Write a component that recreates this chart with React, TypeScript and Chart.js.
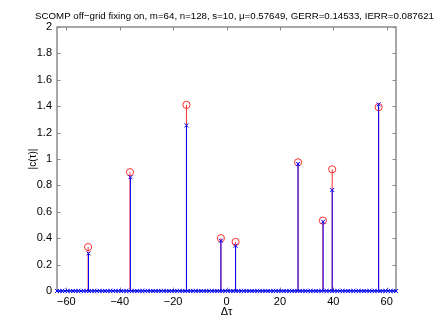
import React, { useEffect, useRef } from "react";
import { Chart, registerables } from "chart.js";

Chart.register(...registerables);

const TITLE = "SCOMP off\u2212grid fixing on, m=64, n=128, s=10, \u03bc=0.57649, GERR=0.14533, IERR=0.087621";
const X_LABEL = "\u0394\u03c4";
const Y_LABEL = "|c(\u03c4)|";

// true (red, circles) spikes
const trueTau = [-51.85, -36.15, -15.0, -2.1, 3.4, 26.8, 36.1, 39.6, 57.0];
const trueAmp = [0.333, 0.9, 1.41, 0.4, 0.372, 0.975, 0.533, 0.922, 1.393];
// estimated (blue, crosses) spikes
const estTau = [-51.7, -36.0, -15.0, -2.1, 3.4, 26.8, 36.2, 39.6, 57.0];
const estAmp = [0.285, 0.862, 1.255, 0.381, 0.343, 0.962, 0.525, 0.765, 1.414];
// grid of estimate positions where the estimate is zero
const zeroGrid = [
  -63.5, -62.5, -61.5, -60.5, -59.5, -58.5, -57.5, -56.5, -55.5, -54.5, -53.5, -52.5, -51.5, -50.5, -49.5, -48.5,
  -47.5, -46.5, -45.5, -44.5, -43.5, -42.5, -41.5, -40.5, -39.5, -38.5, -37.5, -36.5, -35.5, -34.5, -33.5, -32.5,
  -31.5, -30.5, -29.5, -28.5, -27.5, -26.5, -25.5, -24.5, -23.5, -22.5, -21.5, -20.5, -19.5, -18.5, -17.5, -16.5,
  -15.5, -14.5, -13.5, -12.5, -11.5, -10.5, -9.5, -8.5, -7.5, -6.5, -5.5, -4.5, -3.5, -2.5, -1.5, -0.5,
  0.5, 1.5, 2.5, 3.5, 4.5, 5.5, 6.5, 7.5, 8.5, 9.5, 10.5, 11.5, 12.5, 13.5, 14.5, 15.5,
  16.5, 17.5, 18.5, 19.5, 20.5, 21.5, 22.5, 23.5, 24.5, 25.5, 26.5, 27.5, 28.5, 29.5, 30.5, 31.5,
  32.5, 33.5, 34.5, 35.5, 36.5, 37.5, 38.5, 39.5, 40.5, 41.5, 42.5, 43.5, 44.5, 45.5, 46.5, 47.5,
  48.5, 49.5, 50.5, 51.5, 52.5, 53.5, 54.5, 55.5, 56.5, 57.5, 58.5, 59.5, 60.5, 61.5, 62.5, 63.5,
];

const X_MIN = -63.5;
const X_MAX = 63.5;
const Y_MIN = 0;
const Y_MAX = 2;
const xTicks = [-60, -40, -20, 0, 20, 40, 60];
const xTickLabels = ["\u221260", "\u221240", "\u221220", "0", "20", "40", "60"];
const yTicks = [0, 0.2, 0.4, 0.6, 0.8, 1, 1.2, 1.4, 1.6, 1.8, 2];
const yTickLabels = ["0", "0.2", "0.4", "0.6", "0.8", "1", "1.2", "1.4", "1.6", "1.8", "2"];

const FONT = "'Liberation Sans', Arial, Helvetica, sans-serif";

function stemData(tau: number[], amp: number[]) {
  const out: { x: number; y: number | null }[] = [];
  tau.forEach((t, i) => {
    out.push({ x: t, y: 0 });
    out.push({ x: t, y: amp[i] });
    out.push({ x: t, y: null });
  });
  return out;
}

const framePlugin = {
  id: "matlabFrame",
  beforeDatasetsDraw(chart: any) {
    const { ctx, chartArea } = chart;
    const { left, right, top, bottom } = chartArea;
    const xs = chart.scales.x;
    const ys = chart.scales.y;
    ctx.save();
    ctx.strokeStyle = "#8a8a8a";
    ctx.lineWidth = 1.5;
    ctx.strokeRect(left, top, right - left, bottom - top);
    ctx.lineWidth = 1;
    ctx.beginPath();
    const tl = 3.5;
    xTicks.forEach((v) => {
      const px = Math.round(xs.getPixelForValue(v)) + 0.5;
      ctx.moveTo(px, bottom);
      ctx.lineTo(px, bottom - tl);
      ctx.moveTo(px, top);
      ctx.lineTo(px, top + tl);
    });
    yTicks.forEach((v) => {
      const py = Math.round(ys.getPixelForValue(v)) + 0.5;
      ctx.moveTo(left, py);
      ctx.lineTo(left + tl, py);
      ctx.moveTo(right, py);
      ctx.lineTo(right - tl, py);
    });
    ctx.stroke();
    ctx.restore();
  },
  afterDraw(chart: any) {
    const { ctx, chartArea } = chart;
    const { left, right, top, bottom } = chartArea;
    ctx.save();
    ctx.fillStyle = "#000";
    ctx.textAlign = "center";
    ctx.textBaseline = "alphabetic";
    ctx.font = `10px ${FONT}`;
    const w = ctx.measureText(TITLE).width;
    const size = Math.min(11, (10 * 399) / w);
    ctx.font = `${size}px ${FONT}`;
    ctx.fillText(TITLE, 234.5, 18.5);
    ctx.font = `11px ${FONT}`;
    ctx.textBaseline = "middle";
    ctx.fillText(X_LABEL, (left + right) / 2, 312);
    ctx.translate(33, (top + bottom) / 2);
    ctx.rotate(-Math.PI / 2);
    ctx.font = `10px ${FONT}`;
    ctx.fillText(Y_LABEL, 0, 0);
    ctx.restore();
  },
};

export default function App() {
  const ref = useRef<HTMLCanvasElement | null>(null);

  useEffect(() => {
    if (!ref.current) return;
    const estPoints = [
      ...zeroGrid.map((t) => ({ x: t, y: 0 })),
      ...estTau.map((t, i) => ({ x: t, y: estAmp[i] })),
    ];
    const chart = new Chart(ref.current, {
      type: "scatter",
      data: {
        datasets: [
          {
            label: "estimate markers",
            data: estPoints,
            showLine: false,
            pointStyle: "crossRot",
            pointRadius: 2.8,
            borderColor: "#0000ff",
            backgroundColor: "#0000ff",
            borderWidth: 1,
            clip: false,
          } as any,
          {
            label: "baseline",
            type: "line",
            data: [
              { x: X_MIN, y: 0 },
              { x: X_MAX, y: 0 },
            ],
            borderColor: "#0000ff",
            borderWidth: 1,
            pointRadius: 0,
            fill: false,
          } as any,
          {
            label: "estimate stems",
            type: "line",
            data: stemData(estTau, estAmp),
            borderColor: "#0000ff",
            borderWidth: 1,
            pointRadius: 0,
            spanGaps: false,
            fill: false,
          } as any,
          {
            label: "true markers",
            data: trueTau.map((t, i) => ({ x: t, y: trueAmp[i] })),
            showLine: false,
            pointStyle: "circle",
            pointRadius: 3.6,
            borderColor: "#ff3030",
            backgroundColor: "rgba(0,0,0,0)",
            borderWidth: 1,
            clip: false,
          } as any,
          {
            label: "true stems",
            type: "line",
            data: stemData(trueTau, trueAmp),
            borderColor: "#ff3030",
            borderWidth: 1,
            pointRadius: 0,
            spanGaps: false,
            fill: false,
          } as any,
        ],
      },
      options: {
        animation: false,
        responsive: false,
        devicePixelRatio: 1,
        layout: { padding: { left: 0, top: 27, right: 40, bottom: 0 } },
        plugins: {
          legend: { display: false },
          tooltip: { enabled: false },
          title: { display: false },
        },
        scales: {
          x: {
            type: "linear",
            min: X_MIN,
            max: X_MAX,
            grid: { display: false, drawTicks: false },
            border: { display: false },
            afterBuildTicks: (s: any) => {
              s.ticks = xTicks.map((v) => ({ value: v }));
            },
            afterFit: (s: any) => {
              s.height = 36;
            },
            ticks: {
              autoSkip: false,
              maxRotation: 0,
              padding: 4,
              color: "#000",
              font: { family: FONT, size: 11 },
              callback: (_v: any, i: number) => xTickLabels[i],
            },
          },
          y: {
            type: "linear",
            min: Y_MIN,
            max: Y_MAX,
            grid: { display: false, drawTicks: false },
            border: { display: false },
            afterBuildTicks: (s: any) => {
              s.ticks = yTicks.map((v) => ({ value: v }));
            },
            afterFit: (s: any) => {
              s.width = 57;
            },
            ticks: {
              autoSkip: false,
              padding: 5,
              color: "#000",
              font: { family: FONT, size: 11 },
              callback: (_v: any, i: number) => yTickLabels[i],
            },
          },
        },
      } as any,
      plugins: [framePlugin],
    });
    return () => chart.destroy();
  }, []);

  return (
    <div style={{ position: "absolute", left: 0, top: 0, width: 436, height: 327, background: "#fff" }}>
      <canvas ref={ref} width={436} height={327} style={{ display: "block", width: 436, height: 327 }} />
    </div>
  );
}
